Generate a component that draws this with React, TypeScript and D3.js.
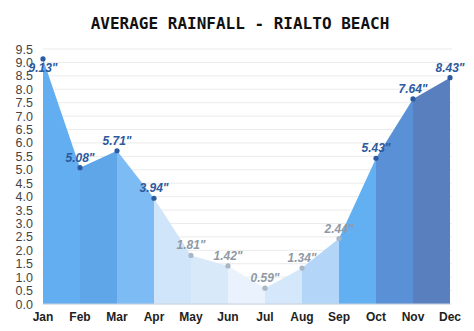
import React from "react";
import * as d3 from "d3";

const months = ["Jan","Feb","Mar","Apr","May","Jun","Jul","Aug","Sep","Oct","Nov","Dec"];
const rainfall = [9.13, 5.08, 5.71, 3.94, 1.81, 1.42, 0.59, 1.34, 2.44, 5.43, 7.64, 8.43];
const segmentColors = ["#62aef0","#5ea6e8","#7cbbf3","#d0e5fa","#d8e9fa","#eaf3fd","#d5e7fb","#b3d5f8","#62b0f1","#5a90d5","#5a7fbf"];
const labelIsDark = [true, true, true, true, false, false, false, false, false, true, true, true];
const yTicks = d3.range(0, 9.51, 0.5);

export default function App() {
  const W = 474, H = 331;
  const x = d3.scalePoint<string>().domain(months).range([43, 450]);
  const y = d3.scaleLinear().domain([0, 9.5]).range([304, 49]);
  const segs = segmentColors.map((c, i) => {
    const pts: [number, number][] = [
      [x(months[i])!, y(rainfall[i])],
      [x(months[i + 1])!, y(rainfall[i + 1])],
    ];
    const a = d3.area<[number, number]>().x(p => p[0]).y0(y(0)).y1(p => p[1]);
    return <path key={i} d={a(pts) || ""} fill={c} />;
  });
  return (
    <div style={{ position: "absolute", left: 0, top: 0 }}>
      <svg width={W} height={H} style={{ display: "block", background: "#fff" }}>
        <text x={240} y={29} textAnchor="middle" fontFamily="DejaVu Sans Mono" fontWeight="bold" fontSize={16} fill="#111">
          AVERAGE RAINFALL - RIALTO BEACH
        </text>
        {yTicks.map(t => (
          <g key={t}>
            <line x1={43} x2={452} y1={y(t)} y2={y(t)} stroke="#ebebeb" strokeWidth={1} />
            <text x={33} y={y(t) + 4.5} textAnchor="end" fontFamily="Liberation Sans, Arial, sans-serif" fontSize={12.5} fill="#444">
              {t.toFixed(1)}
            </text>
          </g>
        ))}
        {segs}
        <line x1={43} x2={450} y1={y(0)} y2={y(0)} stroke="#c8d3de" strokeWidth={1} />
        {rainfall.map((v, i) => (
          <circle key={"c" + i} cx={x(months[i])} cy={y(v)} r={2.6} fill={labelIsDark[i] ? "#2c5aa0" : "#a9b6c4"} />
        ))}
        {rainfall.map((v, i) => {
          const px = x(months[i])!;
          const py = y(v);
          const ly = i === 0 ? py + 13 : py - 6;
          return (
            <text key={"l" + i} x={px} y={ly} textAnchor="middle" fontFamily="Liberation Sans, Arial, sans-serif" fontWeight="bold" fontStyle="italic" fontSize={12} fill={labelIsDark[i] ? "#2c5aa0" : "#8f9aa6"}>
              {v.toFixed(2)}"
            </text>
          );
        })}
        {months.map(m => (
          <text key={m} x={x(m)} y={321} textAnchor="middle" fontFamily="Liberation Sans, Arial, sans-serif" fontWeight="bold" fontSize={12} fill="#222">
            {m}
          </text>
        ))}
      </svg>
    </div>
  );
}
